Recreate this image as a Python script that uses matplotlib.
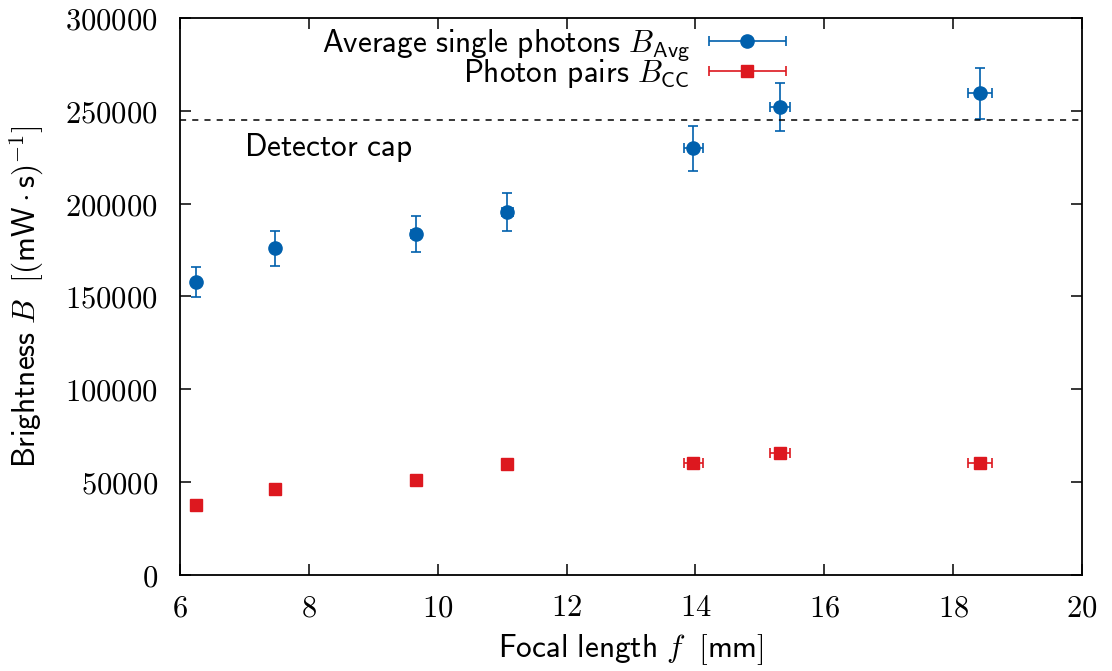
import numpy as np
import matplotlib.pyplot as plt
from matplotlib.ticker import FuncFormatter
from matplotlib.container import ErrorbarContainer
from matplotlib.legend_handler import HandlerErrorbar

plt.rcParams['mathtext.fontset'] = 'cm'
plt.rcParams['font.family'] = 'DejaVu Sans'

# focal lengths [mm] and their uncertainties
focal = [6.25, 7.47, 9.66, 11.08, 13.97, 15.31, 18.42]
focal_err = [0.03, 0.03, 0.07, 0.09, 0.14, 0.16, 0.19]

# brightness of single photons (averaged) and photon pairs [(mW s)^-1]
b_avg = [157800, 176000, 183700, 195500, 229800, 252200, 259400]
b_avg_err = [8200, 9400, 9500, 10200, 12100, 13000, 13600]
b_cc = [37500, 46100, 51000, 59600, 60500, 65500, 60500]
b_cc_err = [800, 900, 1100, 1300, 1400, 1600, 1500]

detector_cap = 245000

blue = '#0060ad'
red = '#dd181f'
fs = 22.5

fig = plt.figure(figsize=(11.12, 6.71), dpi=100)
ax = fig.add_axes([0.1619, 0.1431, 0.8111, 0.8301])

ax.errorbar(focal, b_avg, yerr=b_avg_err, xerr=focal_err, fmt='o', color=blue,
            ms=9.5, elinewidth=1.2, capsize=3.5, capthick=1.2,
            label=r'$\mathsf{Average\ single\ photons}\ B_{\mathsf{Avg}}$')
ax.errorbar(focal, b_cc, yerr=b_cc_err, xerr=focal_err, fmt='s', color=red,
            ms=9, elinewidth=1.2, capsize=3.5, capthick=1.2,
            label=r'$\mathsf{Photon\ pairs}\ B_{\mathsf{CC}}$')

ax.axhline(detector_cap, color='black', lw=1.1, ls=(0, (4, 4)))
ax.text(7.0, 230000, r'$\mathsf{Detector\ cap}$', fontsize=fs, va='center')

ax.set_xlim(6, 20)
ax.set_ylim(0, 300000)
ax.set_xticks(np.arange(6, 21, 2))
ax.set_yticks(np.arange(0, 300001, 50000))
ax.xaxis.set_major_formatter(FuncFormatter(lambda v, p: f'${int(v)}$'))
ax.yaxis.set_major_formatter(FuncFormatter(lambda v, p: f'${int(v)}$'))
ax.tick_params(direction='in', length=8, width=1.1, top=True, right=True,
               labelsize=22)
ax.tick_params(axis='x', pad=13)
ax.tick_params(axis='y', pad=16)
for s in ax.spines.values():
    s.set_linewidth(1.3)

ax.set_xlabel(r'$\mathsf{Focal\ length}\ f\;\ [\mathsf{mm}]$', fontsize=fs, labelpad=7)
ax.set_ylabel(r'$\mathsf{Brightness}\ B\;\ [(\mathsf{mW}\cdot\mathsf{s})^{-1}]$',
              fontsize=fs, labelpad=14)

# gnuplot-like key: text on the left, horizontal error bar sample on the right
hl = 2.5
handler = HandlerErrorbar(xerr_size=hl / 2 * 0.98, yerr_size=0.0)
ax.legend(loc='upper right', bbox_to_anchor=(802 / 1112, 1 - 12 / 671),
          bbox_transform=fig.transFigure, frameon=False, markerfirst=False,
          alignment='right', fontsize=fs, handlelength=hl, handletextpad=0.6,
          labelspacing=-0.22, borderpad=0,
          handler_map={ErrorbarContainer: handler})

fig.savefig('out.png', dpi=100)
